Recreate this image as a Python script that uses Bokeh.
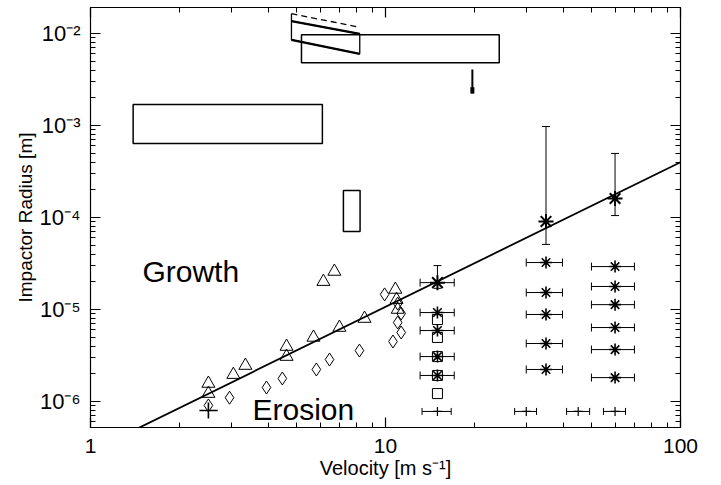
from bokeh.plotting import figure
from bokeh.models import Range1d, FixedTicker, LogAxis, Whisker, TeeHead, ColumnDataSource
from bokeh.core.properties import value
from bokeh.embed import file_html
from bokeh.resources import INLINE

# ---------------- data ----------------
fit_v = [1.0, 100.0]
fit_r = [2.86e-7, 3.99e-4]

tri_v = [2.51, 2.51, 3.05, 3.35, 4.62, 4.62, 5.70, 6.98, 8.49, 10.8, 10.9, 11.0, 6.16, 6.71]
tri_r = [1.57e-6, 1.22e-6, 1.96e-6, 2.46e-6, 3.96e-6, 3.08e-6, 4.97e-6, 6.37e-6, 7.98e-6,
         1.65e-5, 1.28e-5, 1.0e-5, 2.01e-5, 2.59e-5]

dia_v = [2.51, 2.96, 3.95, 4.47, 5.83, 6.46, 8.16, 9.93, 11.0, 11.3, 11.0, 11.3, 10.6]
dia_r = [9.06e-7, 1.10e-6, 1.42e-6, 1.78e-6, 2.23e-6, 2.86e-6, 3.58e-6, 1.46e-5, 1.16e-5,
         9.05e-6, 7.23e-6, 5.63e-6, 4.49e-6]

cross_v, cross_vlo, cross_vhi = [2.51], [2.34], [2.70]
cross_r, cross_rlo, cross_rhi = [7.98e-7], [6.53e-7], [9.75e-7]

sq_v = [15, 15, 15, 15, 15]
sq_r = [7.78e-6, 4.97e-6, 3.08e-6, 1.92e-6, 1.22e-6]

ast_v = [15] * 4 + [35] * 5 + [60] * 6
ast_r = [9.27e-6, 5.91e-6, 3.08e-6, 1.92e-6,
         3.24e-5, 1.53e-5, 8.83e-6, 4.27e-6, 2.23e-6,
         2.93e-5, 1.78e-5, 1.13e-5, 6.37e-6, 3.67e-6, 1.82e-6]
ast_vlo = [13.1] * 4 + [30.0] * 5 + [49.9] * 6
ast_vhi = [17.1] * 4 + [39.8] * 5 + [69.8] * 6

big_v = [15, 35, 60]
big_r = [1.96e-5, 9.06e-5, 1.61e-4]
big_rlo = [1.7e-5, 5.1e-5, 1.05e-4]
big_rhi = [3.0e-5, 9.75e-4, 4.97e-4]
big15_vlo, big15_vhi = [13.1], [17.1]

pl_v = [15, 30, 45, 60]
pl_r = [7.8e-7, 7.8e-7, 7.8e-7, 7.8e-7]
pl_vlo = [13.3, 27.4, 41.1, 54.8]
pl_vhi = [16.7, 32.5, 49.2, 65.1]

box_left = [1.395, 7.2, 5.19]
box_right = [6.11, 8.2, 24.3]
box_bottom = [6.37e-4, 7.05e-5, 4.8e-3]
box_top = [1.69e-3, 1.96e-4, 9.7e-3]

para_v = [4.8, 8.18, 8.18, 4.8]
para_r = [1.36e-2, 9.9e-3, 6.02e-3, 8.55e-3]
dash_v = [4.8, 8.18]
dash_r = [1.64e-2, 1.17e-2]

bar_v = [19.7]
bar_top = [4.06e-3]
bar_bottom = [2.23e-3]
bar_thick_top = [2.6e-3]

label_text = ["Growth", "Erosion"]
label_v = [1.5, 3.54]
label_r = [2.58e-5, 8.17e-7]

x_ticks = [1, 10, 100]
x_tick_labels = ["1", "10", "100"]
x_minor = [2, 3, 4, 5, 6, 7, 8, 9, 20, 30, 40, 50, 60, 70, 80, 90]
y_ticks = [1e-6, 1e-5, 1e-4, 1e-3, 1e-2]
y_tick_labels = ["10\u207b\u2076", "10\u207b\u2075", "10\u207b\u2074", "10\u207b\u00b3", "10\u207b\u00b2"]
y_minor = [m * 10.0 ** e for e in range(-7, -1) for m in range(2, 10)]

# ---------------- figure ----------------
FONT = "Liberation Sans"
p = figure(width=721, height=485, x_axis_type="log", y_axis_type="log",
           x_range=Range1d(1, 100), y_range=Range1d(5.22e-7, 1.917e-2),
           output_backend="svg", toolbar_location=None,
           min_border_left=90, min_border_right=41, min_border_top=7, min_border_bottom=58)
p.grid.visible = False
p.outline_line_color = "black"
p.background_fill_color = "white"
p.border_fill_color = "white"


def style_axis(ax, ticks, minor, labels):
    ax.ticker = FixedTicker(ticks=ticks, minor_ticks=minor)
    ax.major_tick_in = 10
    ax.major_tick_out = 0
    ax.minor_tick_in = 5
    ax.minor_tick_out = 0
    for attr in ["axis_line_color", "major_tick_line_color", "minor_tick_line_color"]:
        setattr(ax, attr, "black")
    ax.axis_line_width = 1.2
    ax.major_tick_line_width = 1.2
    ax.minor_tick_line_width = 1
    ax.major_label_text_font = FONT
    ax.major_label_text_color = "black"
    ax.axis_label_text_font = FONT
    ax.axis_label_text_font_style = "normal"
    ax.axis_label_text_color = "black"
    ax.major_label_overrides = dict(zip(ticks, labels))


xa = p.xaxis[0]
style_axis(xa, x_ticks, x_minor, x_tick_labels)
xa.major_label_text_font_size = "21px"
xa.major_label_standoff = 11
xa.axis_label = "Velocity [m s\u207b\u00b9]"
xa.axis_label_text_font_size = "20px"
xa.axis_label_standoff = 1

ya = p.yaxis[0]
style_axis(ya, y_ticks, y_minor, y_tick_labels)
ya.major_label_text_font_size = "22px"
ya.major_label_standoff = 10
ya.major_label_orientation = "horizontal"
ya.axis_label = "Impactor Radius [m]"
ya.axis_label_text_font_size = "19px"
ya.axis_label_standoff = 1

top_ax = LogAxis()
style_axis(top_ax, x_ticks, x_minor, ["", "", ""])
top_ax.major_label_text_font_size = "1px"
top_ax.major_label_standoff = 0
p.add_layout(top_ax, "above")

right_ax = LogAxis()
style_axis(right_ax, y_ticks, y_minor, ["", "", "", "", ""])
right_ax.major_label_text_font_size = "1px"
right_ax.major_label_standoff = 0
p.add_layout(right_ax, "right")

# ---------------- glyphs ----------------
p.line(fit_v, fit_r, line_color="black", line_width=1.8)

p.scatter(tri_v, tri_r, marker="triangle", size=13, fill_color=None, line_color="black", line_width=1)
p.scatter(dia_v, dia_r, marker="diamond", size=13, fill_color=None, line_color="black", line_width=1)

p.segment(cross_vlo, cross_r, cross_vhi, cross_r, line_color="black", line_width=1.6)
p.segment(cross_v, cross_rlo, cross_v, cross_rhi, line_color="black", line_width=1.6)

p.scatter(sq_v, sq_r, marker="square", size=10, fill_color=None, line_color="black", line_width=1)

ast_src = ColumnDataSource(dict(v=ast_v, r=ast_r, lo=ast_vlo, hi=ast_vhi))
p.add_layout(Whisker(source=ast_src, base="r", lower="lo", upper="hi", dimension="width",
                     line_color="black", line_width=1,
                     upper_head=TeeHead(size=8, line_color="black", line_width=1),
                     lower_head=TeeHead(size=8, line_color="black", line_width=1)))
p.scatter("v", "r", source=ast_src, marker="asterisk", size=12, line_color="black", line_width=1.6)

big_src = ColumnDataSource(dict(v=big_v, r=big_r, lo=big_rlo, hi=big_rhi))
p.add_layout(Whisker(source=big_src, base="v", lower="lo", upper="hi", dimension="height",
                     line_color="black", line_width=1,
                     upper_head=TeeHead(size=8, line_color="black", line_width=1),
                     lower_head=TeeHead(size=8, line_color="black", line_width=1)))
b15_src = ColumnDataSource(dict(r=big_r[:1], lo=big15_vlo, hi=big15_vhi))
p.add_layout(Whisker(source=b15_src, base="r", lower="lo", upper="hi", dimension="width",
                     line_color="black", line_width=1,
                     upper_head=TeeHead(size=8, line_color="black", line_width=1),
                     lower_head=TeeHead(size=8, line_color="black", line_width=1)))
p.scatter("v", "r", source=big_src, marker="asterisk", size=15, line_color="black", line_width=2)

pl_src = ColumnDataSource(dict(v=pl_v, r=pl_r, lo=pl_vlo, hi=pl_vhi))
p.add_layout(Whisker(source=pl_src, base="r", lower="lo", upper="hi", dimension="width",
                     line_color="black", line_width=1,
                     upper_head=TeeHead(size=7, line_color="black", line_width=1),
                     lower_head=TeeHead(size=7, line_color="black", line_width=1)))
p.scatter("v", "r", source=pl_src, marker="cross", size=9, line_color="black", line_width=1.2)

p.quad(left=box_left, right=box_right, bottom=box_bottom, top=box_top,
       fill_color=None, line_color="black", line_width=1.5)

p.patch(para_v, para_r, fill_color=None, line_color="black", line_width=1.3)
p.segment([para_v[0], para_v[3]], [para_r[0], para_r[3]], [para_v[1], para_v[2]], [para_r[1], para_r[2]],
          line_color="black", line_width=2.3)
p.line(dash_v, dash_r, line_color="black", line_width=1.3, line_dash="6 4")
p.segment([dash_v[0]], [para_r[0]], [dash_v[0]], [dash_r[0]], line_color="black", line_width=1.3)

p.segment(bar_v, bar_bottom, bar_v, bar_top, line_color="black", line_width=2)
p.segment(bar_v, bar_bottom, bar_v, bar_thick_top, line_color="black", line_width=4)

p.text(x=label_v, y=label_r, text=label_text, text_font=value(FONT), text_font_size="30px",
       text_color="black", text_baseline="alphabetic", text_align="left")

open("out.html", "w").write(file_html(p, INLINE))
